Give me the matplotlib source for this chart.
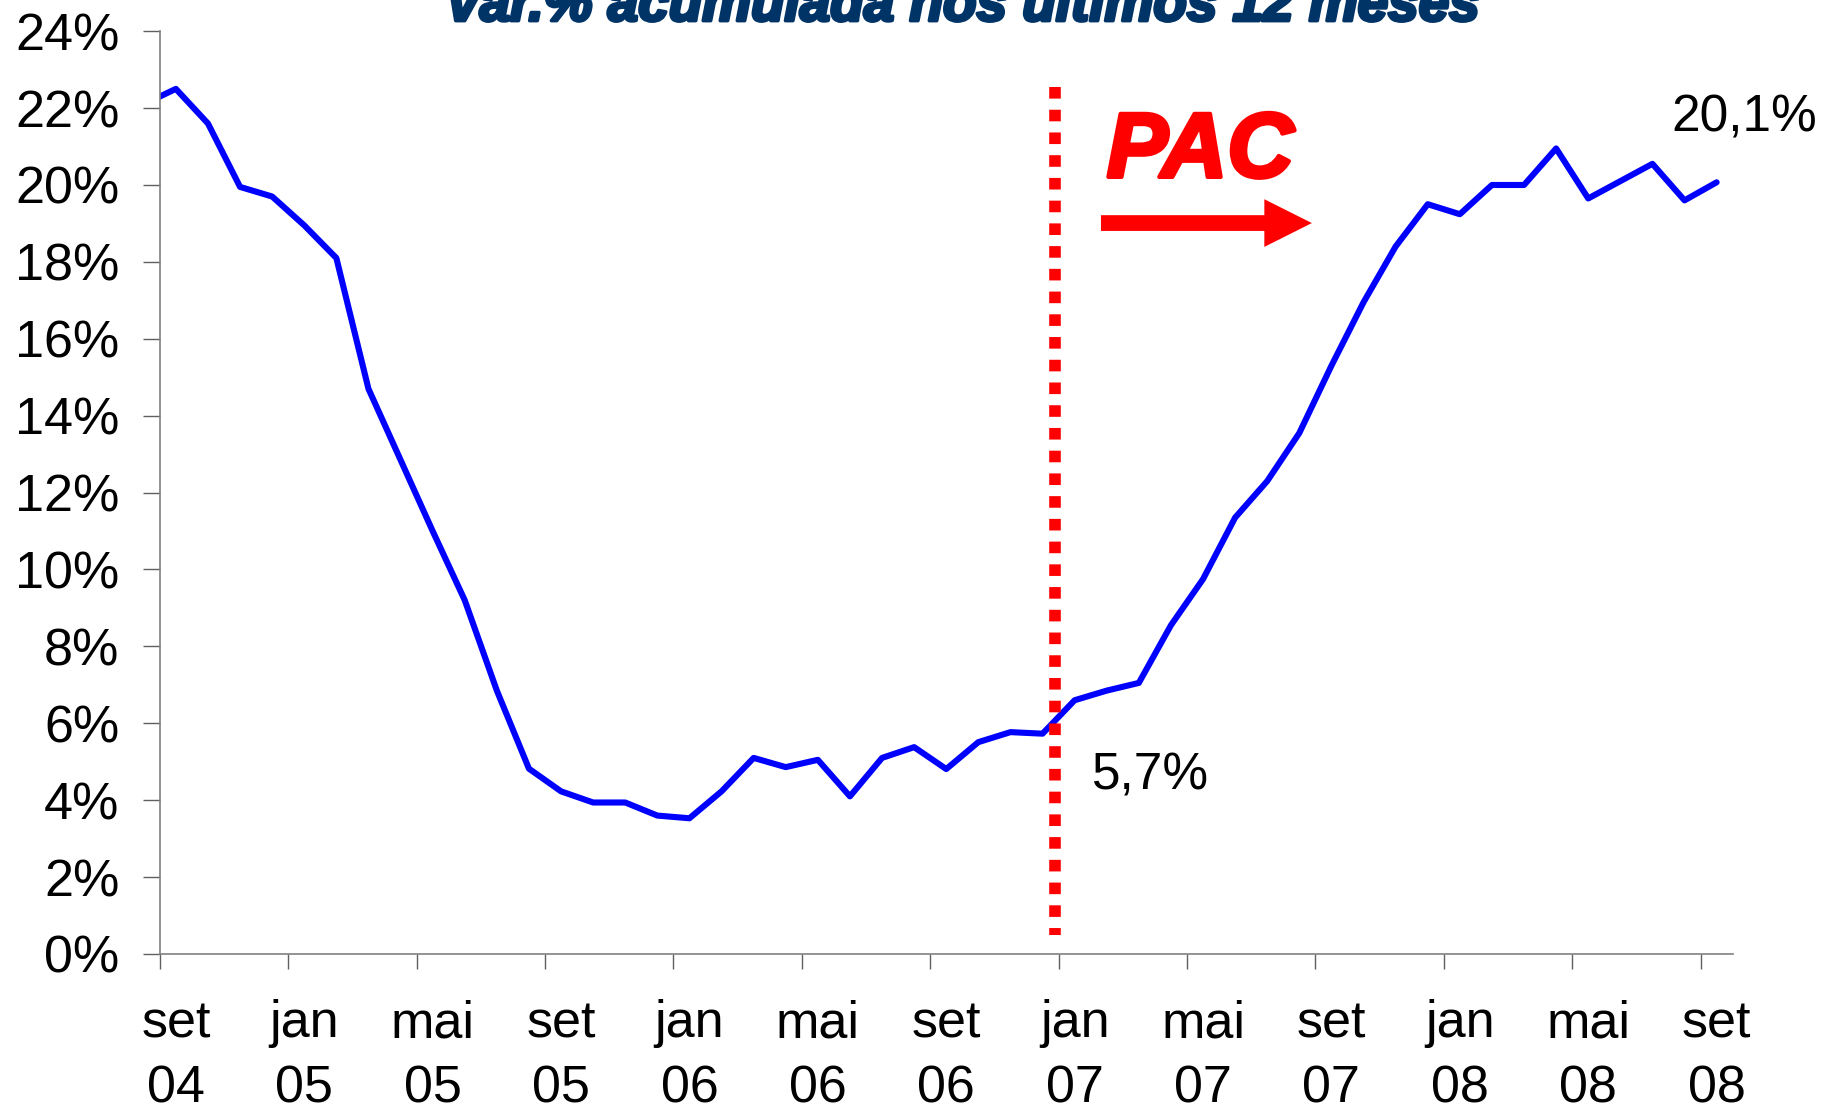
import matplotlib
matplotlib.use('Agg')
import matplotlib.pyplot as plt
import matplotlib.patheffects as pe
from matplotlib.patches import FancyArrow
from matplotlib.ticker import FuncFormatter
import numpy as np

plt.rcParams['font.family'] = ['Liberation Sans', 'DejaVu Sans']

# Var.% acumulada em 12 meses, mensal de ago/04 a set/08
valores = [22.1,
           22.5, 21.6, 19.95, 19.7, 18.95, 18.1, 14.7, 12.85, 11.0, 9.2, 6.85, 4.82,
           4.23, 3.94, 3.94, 3.6, 3.53, 4.23, 5.1, 4.86, 5.05, 4.1, 5.1, 5.38,
           4.81, 5.51, 5.77, 5.73, 6.6, 6.85, 7.05, 8.55, 9.75, 11.35, 12.3, 13.55,
           15.3, 16.95, 18.4, 19.5, 19.24, 20.0, 20.0, 20.95, 19.65, 20.1, 20.55, 19.6,
           20.07]
rotulos_x = ['set\n04', 'jan\n05', 'mai\n05', 'set\n05', 'jan\n06', 'mai\n06', 'set\n06',
             'jan\n07', 'mai\n07', 'set\n07', 'jan\n08', 'mai\n08', 'set\n08']
titulo = 'Var.% acumulada nos últimos 12 meses'

# anotações
pac_mes = 27.9          # posição da linha vertical (início do PAC)
rotulo_ini = ('5,7%', 29.04, 4.27)
rotulo_fim = ('20,1%', 47.1, 21.38)

# cada mês ocupa uma "casa"; o ponto fica no meio da casa
x = np.arange(len(valores)) - 0.5
n_casas = len(valores) - 1

fig = plt.figure(figsize=(18.27, 11.12), dpi=100)
ax = fig.add_axes([0.08747, 0.14209, 0.8609, 0.82986])

ax.plot(x, valores, color='#0000FF', lw=4.4, solid_capstyle='round', solid_joinstyle='round')

# linha pontilhada vermelha
ax.plot([pac_mes, pac_mes], [22.55, 0.5], color='#FF0000', lw=8.35,
        linestyle=(0, (1, 0.96)), dash_capstyle='butt')

# seta e texto PAC
ax.add_patch(FancyArrow(29.32, 19.01, 6.57, 0, width=0.41, head_width=1.24,
                        head_length=1.48, length_includes_head=True,
                        color='#FF0000', lw=0))
ax.text(29.5, 20.21, 'PAC', fontsize=66, fontweight='bold', fontstyle='italic',
        color='#FF0000', ha='left', va='baseline',
        path_effects=[pe.withStroke(linewidth=3, foreground='#FF0000')])

for txt, tx, ty in (rotulo_ini, rotulo_fim):
    ax.text(tx, ty, txt, fontsize=37, color='black', ha='left', va='baseline', clip_on=False)

ax.set_xlim(0, n_casas)
ax.set_ylim(0, 24)

ax.set_yticks(np.arange(0, 25, 2))
ax.yaxis.set_major_formatter(FuncFormatter(lambda v, p: f'{v:.0f}%'))

ticks = np.arange(0, n_casas, 4)
ax.set_xticks(ticks)
ax.set_xticklabels([])
ax.set_xticks(ticks + 0.5, minor=True)
ax.set_xticklabels(rotulos_x, minor=True, linespacing=1.42)

ax.tick_params(axis='y', which='major', length=12.2, width=1, color='#606060',
               labelsize=37.5, pad=17)
ax.tick_params(axis='x', which='major', length=10.8, width=1, color='#606060')
ax.tick_params(axis='x', which='minor', length=0, labelsize=37.5, pad=32.5)

for s in ('top', 'right'):
    ax.spines[s].set_visible(False)
for s in ('left', 'bottom'):
    ax.spines[s].set_color('#808080')
    ax.spines[s].set_linewidth(1.2)

fig.text(0.5267, 0.9814, titulo, fontsize=39.5, fontweight='bold', fontstyle='italic',
         color='#003366', ha='center', va='baseline',
         path_effects=[pe.withStroke(linewidth=2.5, foreground='#003366')])

fig.savefig('out.png', dpi=100, facecolor='white')
